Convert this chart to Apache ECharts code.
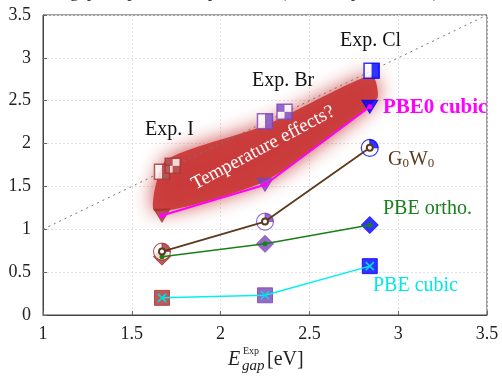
<!DOCTYPE html>
<html>
<head>
<meta charset="utf-8">
<script src="https://cdn.jsdelivr.net/npm/echarts@6/dist/echarts.min.js"></script>
<style>
  html, body { margin: 0; padding: 0; background: #fff; }
  #chart { width: 502px; height: 376px; }
</style>
</head>
<body>
<div id="chart"></div>
<script>
// halides: I, Br, Cl
var halideColors = ['#a83232', '#7b45bb', '#0000ff']
var methodX = [1.67, 2.25, 2.84]

// computed gaps [eV]
var pbeCubic = [0.20, 0.23, 0.57]
var pbeOrtho = [0.68, 0.83, 1.05]
var g0w0 = [0.74, 1.09, 1.95]
var pbe0Cubic = [1.16, 1.52, 2.43]

// experimental points (on the y = x line)
var expX = [1.67, 1.73, 2.25, 2.36, 2.85]
var expY = [1.67, 1.74, 2.26, 2.37, 2.85]
var expHalide = [0, 0, 1, 1, 2]
var expKind = ['half', 'checker', 'half', 'checker', 'half']

// "temperature effects" band outline, in data units
var bandX = [1.63, 1.69, 2.25, 2.85, 2.88, 2.25]
var bandY = [1.21, 1.80, 2.21, 2.80, 2.52, 1.56]
var bandTextAt = [2.24, 1.95]

var xTicks = [1, 1.5, 2, 2.5, 3, 3.5]
var yTicks = [0, 0.5, 1, 1.5, 2, 2.5, 3, 3.5]

var serif = '"Liberation Serif", "DejaVu Serif", serif'

function halidePoints(ys, extra) {
  var out = []
  for (var i = 0; i < methodX.length; i++) {
    var c = halideColors[i]
    out.push({value: [methodX[i], ys[i]], itemStyle: Object.assign({color: c, borderColor: c}, extra || {})})
  }
  return out
}

function expPoints(kind, white) {
  var out = []
  for (var i = 0; i < expX.length; i++) {
    if (kind && expKind[i] !== kind) continue
    var c = halideColors[expHalide[i]]
    out.push({value: [expX[i], expY[i]], itemStyle: {color: white ? '#fff' : c, borderColor: c, borderWidth: white ? 1.5 : 0}})
  }
  return out
}

function methodLine(name, ys, color, width, symbol, size, itemStyle) {
  return {
    name: name, type: 'line', z: 4, data: methodX.map(function (x, i) { return [x, ys[i]] }),
    lineStyle: {color: color, width: width},
    symbol: symbol, symbolSize: size,
    itemStyle: itemStyle || {color: color}
  }
}

var chart = echarts.init(document.getElementById('chart'))

var series = [
  // y = x guide
  {type: 'line', z: 2, data: [[1, 1], [3.5, 3.5]], symbol: 'none',
    lineStyle: {color: '#777', width: 1, type: [2, 4]}},
  // red band + label
  {type: 'custom', z: 1, silent: true, data: [bandTextAt],
    renderItem: function (params, api) {
      var pts = bandX.map(function (x, i) { return api.coord([x, bandY[i]]) })
      var c = api.coord(bandTextAt)
      return {type: 'group', children: [
        {type: 'polygon', shape: {points: pts, smooth: 0.2},
          style: {fill: 'rgba(201,58,58,0.95)', shadowBlur: 20, shadowColor: 'rgba(201,58,58,1)'}},
        {type: 'text', x: c[0], y: c[1], rotation: 28 * Math.PI / 180,
          style: {text: 'Temperature effects?', fill: '#fff', font: '19px ' + serif, align: 'center', verticalAlign: 'middle'}}
      ]}
    }},
  // experiment markers
  {type: 'scatter', z: 3, symbol: 'rect', symbolSize: 15, data: expPoints(null, true)},
  {type: 'scatter', z: 3, symbol: 'rect', symbolSize: [8, 15], symbolOffset: [4, 0], data: expPoints('half', false)},
  {type: 'scatter', z: 3, symbol: 'rect', symbolSize: [7.5, 7.5], symbolOffset: [-3.75, -3.75], data: expPoints('checker', false)},
  {type: 'scatter', z: 3, symbol: 'rect', symbolSize: [7.5, 7.5], symbolOffset: [3.75, 3.75], data: expPoints('checker', false)},

  // PBE cubic
  {type: 'scatter', z: 3, symbol: 'rect', symbolSize: 15, data: halidePoints(pbeCubic)},
  methodLine('PBE cubic', pbeCubic, '#00f0f0', 1.5, 'path://M0,0L10,10M10,0L0,10', 8,
    {color: 'rgba(0,0,0,0)', borderColor: '#00e0e0', borderWidth: 1.5}),
  // PBE ortho
  {type: 'scatter', z: 3, symbol: 'diamond', symbolSize: 17, data: halidePoints(pbeOrtho)},
  methodLine('PBE ortho.', pbeOrtho, '#1a7f1a', 1.5, 'circle', 5),
  // G0W0
  {type: 'scatter', z: 3, symbol: 'circle', symbolSize: 17, data: halidePoints(g0w0, {color: '#fff', borderWidth: 1.2})},
  {type: 'scatter', z: 3, symbol: 'path://M0,10L0,0A10,10 0 0,1 10,10Z', symbolSize: [8, 8], symbolOffset: [4, -4], data: halidePoints(g0w0)},
  methodLine('G0W0', g0w0, '#5c3a1e', 1.8, 'emptyCircle', 6, {color: '#5c3a1e', borderColor: '#5c3a1e'}),
  // PBE0 cubic
  {type: 'scatter', z: 3, symbol: 'triangle', symbolRotate: 180, symbolSize: [16, 13], data: halidePoints(pbe0Cubic)},
  methodLine('PBE0 cubic', pbe0Cubic, '#ff00ff', 2, 'circle', 5)
]

function label(text, x, y, color, extra) {
  return {type: 'text', x: x, y: y, z: 10,
    style: Object.assign({text: text, fill: color, font: '20px ' + serif, verticalAlign: 'middle'}, extra || {})}
}

chart.setOption({
  backgroundColor: '#fff',
  animation: false,
  grid: {left: 43, right: 15, top: 15, bottom: 61, show: true, borderColor: '#444', borderWidth: 1},
  xAxis: {
    type: 'value', min: 1, max: 3.5, interval: 0.5,
    axisLine: {lineStyle: {color: '#444'}},
    axisTick: {inside: true, length: 4, lineStyle: {color: '#666'}},
    axisLabel: {color: '#222', fontSize: 18, fontFamily: serif, margin: 10,
      formatter: function (v) { return xTicks.indexOf(v) >= 0 ? String(v) : '' }},
    splitLine: {show: true, lineStyle: {color: '#e2e2e2', type: [2, 2]}}
  },
  yAxis: {
    type: 'value', min: 0, max: 3.5, interval: 0.5,
    axisLine: {show: true, lineStyle: {color: '#444'}},
    axisTick: {show: true, inside: true, length: 4, lineStyle: {color: '#666'}},
    axisLabel: {color: '#222', fontSize: 18, fontFamily: serif, margin: 12,
      formatter: function (v) { return yTicks.indexOf(v) >= 0 ? String(v) : '' }},
    splitLine: {show: true, lineStyle: {color: '#e2e2e2', type: [2, 2]}}
  },
  graphic: [
    {type: 'text', x: 233, y: -17, style: {text: 'Band gap temperature dependence (CsPbX3 perovskites)', fill: '#333', font: '18px ' + serif, align: 'center'}},
    label('Exp. I', 145, 130, '#111'),
    label('Exp. Br', 252, 81, '#111'),
    label('Exp. Cl', 340, 41, '#111'),
    label('PBE0 cubic', 383, 108, '#ff00ff', {font: 'bold 21px ' + serif}),
    {type: 'text', x: 388, y: 160, z: 10, style: {
      text: '{a|G}{s|0}{a|W}{s|0}', verticalAlign: 'middle',
      rich: {a: {fill: '#5c3a1e', font: '20px ' + serif}, s: {fill: '#5c3a1e', font: '13px ' + serif, padding: [8, 0, 0, 0]}}}},
    label('PBE ortho.', 383, 209, '#1a7f1a'),
    label('PBE cubic', 373, 286, '#00e8e8'),
    // axis title: E_gap^Exp [eV]
    {type: 'text', x: 228, y: 360, style: {text: 'E', fill: '#222', font: 'italic 20px ' + serif, verticalAlign: 'middle'}},
    {type: 'text', x: 243, y: 351, style: {text: 'Exp', fill: '#222', font: '10px ' + serif, verticalAlign: 'middle'}},
    {type: 'text', x: 242, y: 366, style: {text: 'gap', fill: '#222', font: 'italic 15px ' + serif, verticalAlign: 'middle'}},
    {type: 'text', x: 267, y: 360, style: {text: '[eV]', fill: '#222', font: '20px ' + serif, verticalAlign: 'middle'}}
  ],
  series: series
})
</script>
</body>
</html>
